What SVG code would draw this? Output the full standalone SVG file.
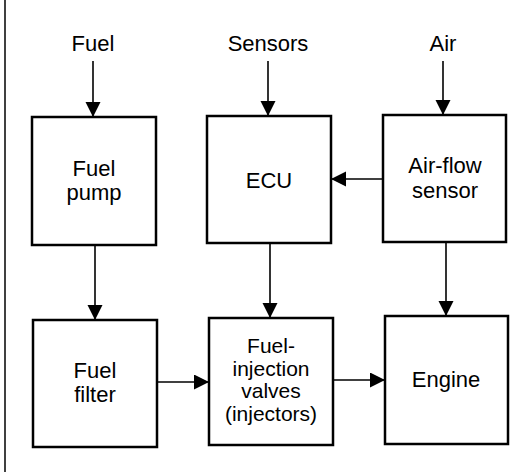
<svg xmlns="http://www.w3.org/2000/svg" width="520" height="472" viewBox="0 0 520 472">
<style>
.box{fill:#fff;stroke:#000;stroke-width:2.5}
.t{font-family:"Liberation Sans",Arial,sans-serif;font-size:22px;fill:#000;text-anchor:middle}
.s{font-size:21px}
.c{stroke:#000;stroke-width:1.6;fill:none;marker-end:url(#ah)}
</style>
<defs>
<marker id="ah" markerUnits="userSpaceOnUse" markerWidth="16" markerHeight="16" refX="15" refY="7.5" orient="auto">
<path d="M0,0 L15,7.5 L0,15 Z" fill="#000"/>
</marker>
</defs>
<rect width="520" height="472" fill="#fff"/>
<line x1="5" y1="0" x2="5" y2="472" stroke="#000" stroke-width="1.5"/>
<g id="labels">
<text class="t" x="93" y="51">Fuel</text>
<text class="t" x="268" y="51">Sensors</text>
<text class="t" x="443" y="51">Air</text>
</g>
<g id="fuel-pump"><rect class="box" x="32" y="117" width="124" height="128"/><text class="t" x="94" y="176">Fuel</text><text class="t" x="94" y="200">pump</text></g>
<g id="ecu"><rect class="box" x="207" y="116" width="124" height="127"/><text class="t" x="269" y="188">ECU</text></g>
<g id="air-flow-sensor"><rect class="box" x="383" y="115" width="123" height="127"/><text class="t" x="445" y="173">Air-flow</text><text class="t" x="445" y="198">sensor</text></g>
<g id="fuel-filter"><rect class="box" x="33" y="320" width="124" height="127"/><text class="t" x="95" y="378">Fuel</text><text class="t" x="95" y="402">filter</text></g>
<g id="injection-valves"><rect class="box" x="209" y="318" width="124" height="127"/><text class="t s" x="271" y="353">Fuel-</text><text class="t s" x="271" y="375.5">injection</text><text class="t s" x="271" y="398">valves</text><text class="t s" x="271" y="420.5">(injectors)</text></g>
<g id="engine"><rect class="box" x="385" y="316" width="123" height="128"/><text class="t" x="446" y="387">Engine</text></g>
<g id="connectors">
<line class="c" x1="93" y1="61" x2="93" y2="117"/>
<line class="c" x1="268" y1="61" x2="268" y2="116"/>
<line class="c" x1="443" y1="61" x2="443" y2="115"/>
<line class="c" x1="383" y1="179" x2="331" y2="179"/>
<line class="c" x1="95" y1="245" x2="95" y2="320"/>
<line class="c" x1="270" y1="243" x2="270" y2="318"/>
<line class="c" x1="446" y1="242" x2="446" y2="316"/>
<line class="c" x1="157" y1="382" x2="209" y2="382"/>
<line class="c" x1="333" y1="380" x2="385" y2="380"/>
</g>
</svg>
